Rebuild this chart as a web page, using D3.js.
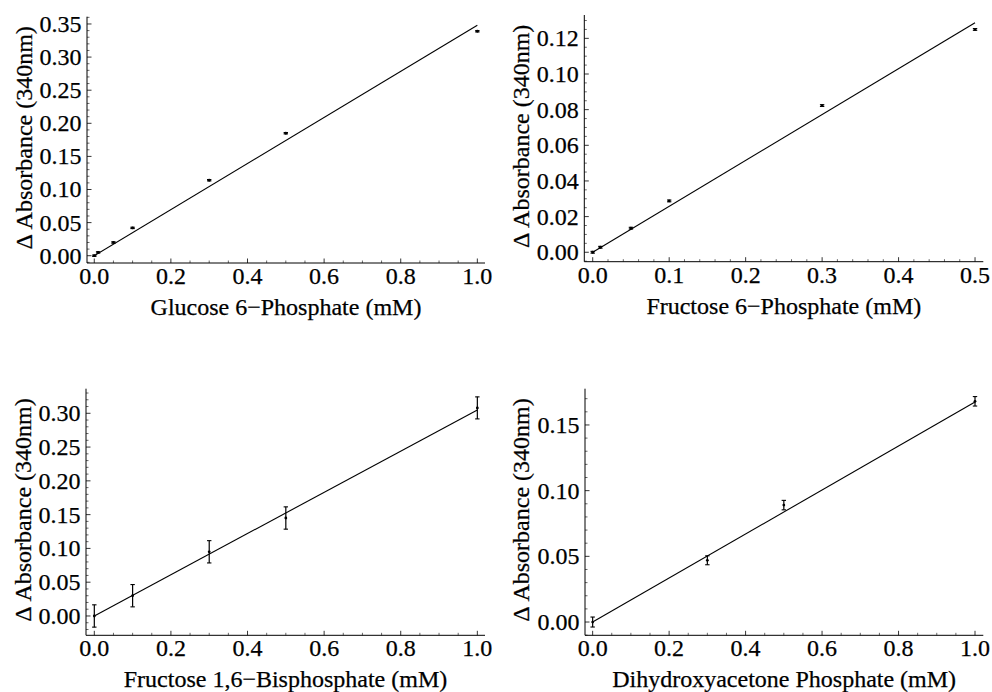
<!DOCTYPE html>
<html>
<head>
<meta charset="utf-8">
<script src="https://cdn.jsdelivr.net/npm/d3@7"></script>
<style>
  html, body { margin: 0; padding: 0; background: #fff; }
  svg { display: block; }
  text { font-family: "Liberation Serif", "Times New Roman", serif; fill: #000; stroke: #000; stroke-width: 0.25px; }
</style>
</head>
<body>
<svg id="chart" width="992" height="692"></svg>
<script>
// ---------- DATA ----------
const xLabels = ["Glucose 6\u2212Phosphate (mM)", "Fructose 6\u2212Phosphate (mM)",
                 "Fructose 1,6\u2212Bisphosphate (mM)", "Dihydroxyacetone Phosphate (mM)"];
const yLabel = "\u0394 Absorbance (340nm)";

const g6pConc = [0, 0.01, 0.05, 0.1, 0.3, 0.5, 1.0];
const g6pAbs  = [0.000, 0.005, 0.020, 0.042, 0.114, 0.185, 0.339];
const g6pErr  = [0.001, 0.001, 0.001, 0.001, 0.001, 0.001, 0.001];

const f6pConc = [0, 0.01, 0.05, 0.1, 0.3, 0.5];
const f6pAbs  = [0.0000, 0.0028, 0.0135, 0.0288, 0.0823, 0.1250];
const f6pErr  = [0.0005, 0.0005, 0.0005, 0.0005, 0.0005, 0.0005];

const fbpConc = [0, 0.1, 0.3, 0.5, 1.0];
const fbpAbs  = [0.000, 0.030, 0.095, 0.145, 0.308];
const fbpErr  = [0.0165, 0.0165, 0.0165, 0.0165, 0.0163];

const dhapConc = [0, 0.3, 0.5, 1.0];
const dhapAbs  = [0.000, 0.047, 0.089, 0.168];
const dhapErr  = [0.0038, 0.0034, 0.0036, 0.0036];

// slope of the straight fit line through the origin
const fitSlopes = [0.348, 0.2575, 0.305, 0.1675];

// tick values
const xTicksA = [0, 0.2, 0.4, 0.6, 0.8, 1.0];
const xTicksB = [0, 0.1, 0.2, 0.3, 0.4, 0.5];
const yTicks1 = [0, 0.05, 0.10, 0.15, 0.20, 0.25, 0.30, 0.35];
const yTicks2 = [0, 0.02, 0.04, 0.06, 0.08, 0.10, 0.12];
const yTicks3 = [0, 0.05, 0.10, 0.15, 0.20, 0.25, 0.30];
const yTicks4 = [0, 0.05, 0.10, 0.15];

// ---------- LAYOUT ----------
const panels = [
  { conc: g6pConc, abs: g6pAbs, err: g6pErr, slope: fitSlopes[0], xl: xLabels[0],
    xTicks: xTicksA, xMinor: 0.05, xFmt: ".1f", yTicks: yTicks1, yMinor: 0.01, yFmt: ".2f",
    xDom: [-0.019, 1.02], yDom: [-0.011, 0.361], x0: 87, x1: 485, yB: 263, yT: 16.7, labX: 32 },
  { conc: f6pConc, abs: f6pAbs, err: f6pErr, slope: fitSlopes[1], xl: xLabels[1],
    xTicks: xTicksB, xMinor: 0.02, xFmt: ".1f", yTicks: yTicks2, yMinor: 0.005, yFmt: ".2f",
    xDom: [-0.011, 0.5108], yDom: [-0.0053, 0.1331], x0: 584.3, x1: 983.3, yB: 261.7, yT: 15, labX: 529 },
  { conc: fbpConc, abs: fbpAbs, err: fbpErr, slope: fitSlopes[2], xl: xLabels[2],
    xTicks: xTicksA, xMinor: 0.05, xFmt: ".1f", yTicks: yTicks3, yMinor: 0.01, yFmt: ".2f",
    xDom: [-0.0217, 1.02], yDom: [-0.0286, 0.3364], x0: 86, x1: 485, yB: 635.3, yT: 388.7, labX: 31 },
  { conc: dhapConc, abs: dhapAbs, err: dhapErr, slope: fitSlopes[3], xl: xLabels[3],
    xTicks: xTicksA, xMinor: 0.05, xFmt: ".1f", yTicks: yTicks4, yMinor: 0.01, yFmt: ".2f",
    xDom: [-0.020, 1.0217], yDom: [-0.0101, 0.1776], x0: 585, x1: 983.3, yB: 635.3, yT: 388.7, labX: 529 }
];

const svg = d3.select("#chart");
const FS = 24;
const FF = "Liberation Serif, Times New Roman, serif";

function minorValues(dom, step, majors) {
  const out = [];
  const start = Math.ceil(dom[0] / step - 1e-9), end = Math.floor(dom[1] / step + 1e-9);
  for (let i = start; i <= end; i++) {
    const v = i * step;
    if (!majors.some(m => Math.abs(m - v) < step / 10)) out.push(v);
  }
  return out;
}

panels.forEach(p => {
  const x = d3.scaleLinear().domain(p.xDom).range([p.x0, p.x1]);
  const y = d3.scaleLinear().domain(p.yDom).range([p.yB, p.yT]);
  const g = svg.append("g");

  // axis lines
  g.append("line").attr("x1", p.x0).attr("x2", p.x1).attr("y1", p.yB).attr("y2", p.yB)
    .attr("stroke", "#000").attr("stroke-width", 1);
  g.append("line").attr("x1", p.x0).attr("x2", p.x0).attr("y1", p.yB).attr("y2", p.yT)
    .attr("stroke", "#000").attr("stroke-width", 1);

  // x ticks (pointing into the plot)
  g.selectAll(".xmaj").data(p.xTicks).join("line")
    .attr("x1", d => x(d)).attr("x2", d => x(d)).attr("y1", p.yB).attr("y2", p.yB - 4.5)
    .attr("stroke", "#000").attr("stroke-width", 0.8);
  g.selectAll(".xmin").data(minorValues(p.xDom, p.xMinor, p.xTicks)).join("line")
    .attr("x1", d => x(d)).attr("x2", d => x(d)).attr("y1", p.yB).attr("y2", p.yB - 2.5)
    .attr("stroke", "#000").attr("stroke-width", 0.6);
  g.selectAll(".xlab").data(p.xTicks).join("text")
    .attr("x", d => x(d)).attr("y", p.yB + 21).attr("text-anchor", "middle")
    .attr("font-family", FF).attr("font-size", FS).text(d => d3.format(p.xFmt)(d));

  // y ticks
  g.selectAll(".ymaj").data(p.yTicks).join("line")
    .attr("x1", p.x0).attr("x2", p.x0 + 4.5).attr("y1", d => y(d)).attr("y2", d => y(d))
    .attr("stroke", "#000").attr("stroke-width", 0.8);
  g.selectAll(".ymin").data(minorValues(p.yDom, p.yMinor, p.yTicks)).join("line")
    .attr("x1", p.x0).attr("x2", p.x0 + 2.5).attr("y1", d => y(d)).attr("y2", d => y(d))
    .attr("stroke", "#000").attr("stroke-width", 0.6);
  g.selectAll(".ylab").data(p.yTicks).join("text")
    .attr("x", p.x0 - 5.5).attr("y", d => y(d)).attr("dy", "0.33em").attr("text-anchor", "end")
    .attr("font-family", FF).attr("font-size", FS).text(d => d3.format(p.yFmt)(d));

  // axis labels
  g.append("text").attr("x", (p.x0 + p.x1) / 2).attr("y", p.yB + 52)
    .attr("text-anchor", "middle").attr("font-family", FF).attr("font-size", FS).text(p.xl);
  g.append("text")
    .attr("transform", `translate(${p.labX},${(p.yB + p.yT) / 2 - 2}) rotate(-90)`)
    .attr("text-anchor", "middle").attr("font-family", FF).attr("font-size", FS).text(yLabel);

  // fit line
  const xMax = d3.max(p.conc);
  g.append("line")
    .attr("x1", x(0)).attr("y1", y(0))
    .attr("x2", x(xMax)).attr("y2", y(p.slope * xMax))
    .attr("stroke", "#000").attr("stroke-width", 1.1);

  // error bars + points
  const pts = p.conc.map((c, i) => ({ c, a: p.abs[i], e: p.err[i] }));
  const eb = g.selectAll(".eb").data(pts).join("g");
  eb.append("line").attr("x1", d => x(d.c)).attr("x2", d => x(d.c))
    .attr("y1", d => y(d.a - d.e)).attr("y2", d => y(d.a + d.e))
    .attr("stroke", "#000").attr("stroke-width", 1.2);
  eb.append("line").attr("x1", d => x(d.c) - 2.2).attr("x2", d => x(d.c) + 2.2)
    .attr("y1", d => y(d.a - d.e)).attr("y2", d => y(d.a - d.e))
    .attr("stroke", "#000").attr("stroke-width", 1.1);
  eb.append("line").attr("x1", d => x(d.c) - 2.2).attr("x2", d => x(d.c) + 2.2)
    .attr("y1", d => y(d.a + d.e)).attr("y2", d => y(d.a + d.e))
    .attr("stroke", "#000").attr("stroke-width", 1.1);
  eb.append("circle").attr("cx", d => x(d.c)).attr("cy", d => y(d.a)).attr("r", 1.4)
    .attr("fill", "#000");
});
</script>
</body>
</html>
